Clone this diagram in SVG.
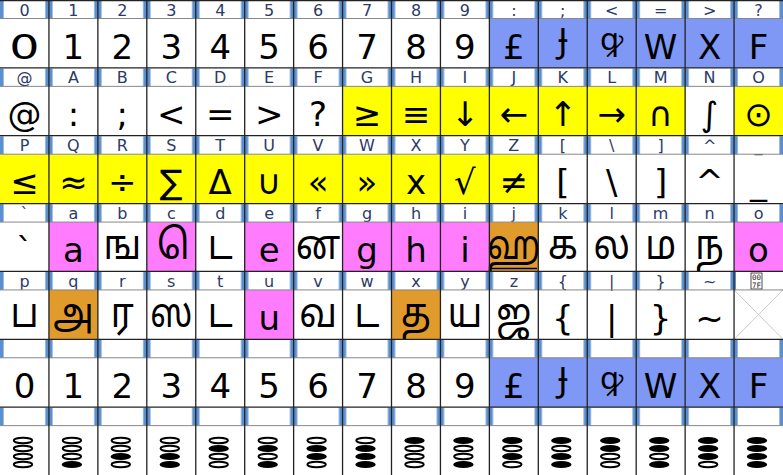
<svg xmlns="http://www.w3.org/2000/svg" xmlns:xlink="http://www.w3.org/1999/xlink" width="783" height="475" viewBox="0 0 783 475">
<style>
.h{font-family:"DejaVu Sans","Noto Sans",sans-serif;font-size:16px;fill:#2b3a67;text-anchor:middle}
.g{font-family:"DejaVu Sans","Noto Sans Tamil","Lohit Tamil","Noto Sans",sans-serif;font-size:34px;fill:#000;text-anchor:middle}
.t{font-family:"Noto Sans Tamil","Lohit Tamil","DejaVu Sans",sans-serif;font-size:41px;fill:#000;text-anchor:middle}
.n{font-family:"Noto Sans","DejaVu Sans",sans-serif;font-size:34px;fill:#000;text-anchor:middle}
.q{font-family:"Noto Sans","DejaVu Sans",sans-serif;font-size:31px;fill:#000;text-anchor:middle}
.bl{fill:#7f97f5}.ye{fill:#ffff00}.pk{fill:#ff7cff}.or{fill:#e19b2d}
.vl{stroke:#222;stroke-width:1.3}
.rl{stroke:#222;stroke-width:1.3}
.hl{stroke:#888;stroke-width:1}
.tf{font-family:"DejaVu Sans Mono",monospace;font-size:7.5px;fill:#222;text-anchor:middle}
</style>
<defs>
<pattern id="bars" patternUnits="userSpaceOnUse" x="0" y="0" width="48.9375" height="475">
<rect x="0" y="0" width="3.6" height="475" fill="#5b8fd0"/>
<rect x="45.34" y="0" width="3.6" height="475" fill="#5b8fd0"/>
</pattern>
<ellipse id="e0" cx="0" cy="0" rx="9.2" ry="2.7" fill="#fff" stroke="#000" stroke-width="2"/>
<ellipse id="e1" cx="0" cy="0" rx="10.2" ry="3.6" fill="#000"/>
</defs>
<rect width="783" height="475" fill="#fff"/>

<g id="header-strips">
<rect x="0" y="0.6" width="783" height="17.9" fill="url(#bars)"/>
<rect x="0" y="68.5" width="783" height="17.9" fill="url(#bars)"/>
<rect x="0" y="136.3" width="783" height="17.9" fill="url(#bars)"/>
<rect x="0" y="204.2" width="783" height="17.9" fill="url(#bars)"/>
<rect x="0" y="272" width="783" height="17.9" fill="url(#bars)"/>
<rect x="0" y="339.9" width="783" height="17.9" fill="url(#bars)"/>
<rect x="0" y="407.7" width="783" height="17.9" fill="url(#bars)"/>
</g>

<g id="row0">
<g id="c0-0"><text class="h" x="24.47" y="15.5">0</text><text class="g" transform="translate(24.47,58.5) scale(1.4,1)" x="0" y="0">0</text></g>
<g id="c0-1"><text class="h" x="73.41" y="15.5">1</text><text class="g" x="73.41" y="58.5">1</text></g>
<g id="c0-2"><text class="h" x="122.34" y="15.5">2</text><text class="g" x="122.34" y="58.5">2</text></g>
<g id="c0-3"><text class="h" x="171.28" y="15.5">3</text><text class="g" x="171.28" y="58.5">3</text></g>
<g id="c0-4"><text class="h" x="220.22" y="15.5">4</text><text class="g" x="220.22" y="58.5">4</text></g>
<g id="c0-5"><text class="h" x="269.16" y="15.5">5</text><text class="g" x="269.16" y="58.5">5</text></g>
<g id="c0-6"><text class="h" x="318.09" y="15.5">6</text><text class="g" x="318.09" y="58.5">6</text></g>
<g id="c0-7"><text class="h" x="367.03" y="15.5">7</text><text class="g" x="367.03" y="58.5">7</text></g>
<g id="c0-8"><text class="h" x="415.97" y="15.5">8</text><text class="g" x="415.97" y="58.5">8</text></g>
<g id="c0-9"><text class="h" x="464.91" y="15.5">9</text><text class="g" x="464.91" y="58.5">9</text></g>
<g id="c0-10"><rect class="bl" x="489.38" y="18.5" width="48.94" height="49.36"/><text class="h" x="513.84" y="15.5">:</text><text class="g" x="513.84" y="58.5">£</text></g>
<g id="c0-11"><rect class="bl" x="538.31" y="18.5" width="48.94" height="49.36"/><text class="h" x="562.78" y="15.5">;</text><text class="n" x="562.78" y="53">Ɉ</text></g>
<g id="c0-12"><rect class="bl" x="587.25" y="18.5" width="48.94" height="49.36"/><text class="h" x="611.72" y="15.5">&lt;</text><text class="q" x="611.72" y="50">ꝙ</text></g>
<g id="c0-13"><rect class="bl" x="636.19" y="18.5" width="48.94" height="49.36"/><text class="h" x="660.66" y="15.5">=</text><text class="g" x="660.66" y="58.5">W</text></g>
<g id="c0-14"><rect class="bl" x="685.13" y="18.5" width="48.94" height="49.36"/><text class="h" x="709.59" y="15.5">&gt;</text><text class="g" x="709.59" y="58.5">X</text></g>
<g id="c0-15"><rect class="bl" x="734.06" y="18.5" width="48.94" height="49.36"/><text class="h" x="758.53" y="15.5">?</text><text class="g" x="758.53" y="58.5">F</text></g>
</g>

<g id="row1">
<g id="c1-0"><text class="h" x="24.47" y="83.36">@</text><text class="g" x="24.47" y="126.36">@</text></g>
<g id="c1-1"><text class="h" x="73.41" y="83.36">A</text><text class="g" x="73.41" y="126.36">:</text></g>
<g id="c1-2"><text class="h" x="122.34" y="83.36">B</text><text class="g" x="122.34" y="126.36">;</text></g>
<g id="c1-3"><text class="h" x="171.28" y="83.36">C</text><text class="g" x="171.28" y="126.36">&lt;</text></g>
<g id="c1-4"><text class="h" x="220.22" y="83.36">D</text><text class="g" x="220.22" y="126.36">=</text></g>
<g id="c1-5"><text class="h" x="269.16" y="83.36">E</text><text class="g" x="269.16" y="126.36">&gt;</text></g>
<g id="c1-6"><text class="h" x="318.09" y="83.36">F</text><text class="g" x="318.09" y="126.36">?</text></g>
<g id="c1-7"><rect class="ye" x="342.56" y="86.36" width="48.94" height="49.36"/><text class="h" x="367.03" y="83.36">G</text><text class="g" x="367.03" y="126.36">≥</text></g>
<g id="c1-8"><rect class="ye" x="391.5" y="86.36" width="48.94" height="49.36"/><text class="h" x="415.97" y="83.36">H</text><text class="g" x="415.97" y="126.36">≡</text></g>
<g id="c1-9"><rect class="ye" x="440.44" y="86.36" width="48.94" height="49.36"/><text class="h" x="464.91" y="83.36">I</text><text class="g" x="464.91" y="126.36">↓</text></g>
<g id="c1-10"><rect class="ye" x="489.38" y="86.36" width="48.94" height="49.36"/><text class="h" x="513.84" y="83.36">J</text><text class="g" x="513.84" y="126.36">←</text></g>
<g id="c1-11"><rect class="ye" x="538.31" y="86.36" width="48.94" height="49.36"/><text class="h" x="562.78" y="83.36">K</text><text class="g" x="562.78" y="126.36">↑</text></g>
<g id="c1-12"><rect class="ye" x="587.25" y="86.36" width="48.94" height="49.36"/><text class="h" x="611.72" y="83.36">L</text><text class="g" x="611.72" y="126.36">→</text></g>
<g id="c1-13"><rect class="ye" x="636.19" y="86.36" width="48.94" height="49.36"/><text class="h" x="660.66" y="83.36">M</text><text class="g" x="660.66" y="126.36">∩</text></g>
<g id="c1-14"><text class="h" x="709.59" y="83.36">N</text><text class="g" x="709.59" y="126.36">∫</text></g>
<g id="c1-15"><rect class="ye" x="734.06" y="86.36" width="48.94" height="49.36"/><text class="h" x="758.53" y="83.36">O</text><text class="g" x="758.53" y="126.36">⊙</text></g>
</g>

<g id="row2">
<g id="c2-0"><rect class="ye" x="0" y="154.21" width="48.94" height="49.36"/><text class="h" x="24.47" y="151.21">P</text><text class="g" x="24.47" y="194.21">≤</text></g>
<g id="c2-1"><rect class="ye" x="48.94" y="154.21" width="48.94" height="49.36"/><text class="h" x="73.41" y="151.21">Q</text><text class="g" x="73.41" y="194.21">≈</text></g>
<g id="c2-2"><rect class="ye" x="97.88" y="154.21" width="48.94" height="49.36"/><text class="h" x="122.34" y="151.21">R</text><text class="g" x="122.34" y="194.21">÷</text></g>
<g id="c2-3"><rect class="ye" x="146.81" y="154.21" width="48.94" height="49.36"/><text class="h" x="171.28" y="151.21">S</text><text class="g" x="171.28" y="194.21">∑</text></g>
<g id="c2-4"><rect class="ye" x="195.75" y="154.21" width="48.94" height="49.36"/><text class="h" x="220.22" y="151.21">T</text><text class="g" x="220.22" y="194.21">Δ</text></g>
<g id="c2-5"><rect class="ye" x="244.69" y="154.21" width="48.94" height="49.36"/><text class="h" x="269.16" y="151.21">U</text><text class="g" x="269.16" y="194.21">∪</text></g>
<g id="c2-6"><rect class="ye" x="293.63" y="154.21" width="48.94" height="49.36"/><text class="h" x="318.09" y="151.21">V</text><text class="g" x="318.09" y="194.21">«</text></g>
<g id="c2-7"><rect class="ye" x="342.56" y="154.21" width="48.94" height="49.36"/><text class="h" x="367.03" y="151.21">W</text><text class="g" x="367.03" y="194.21">»</text></g>
<g id="c2-8"><rect class="ye" x="391.5" y="154.21" width="48.94" height="49.36"/><text class="h" x="415.97" y="151.21">X</text><text class="g" x="415.97" y="194.21">x</text></g>
<g id="c2-9"><rect class="ye" x="440.44" y="154.21" width="48.94" height="49.36"/><text class="h" x="464.91" y="151.21">Y</text><text class="g" x="464.91" y="194.21">√</text></g>
<g id="c2-10"><rect class="ye" x="489.38" y="154.21" width="48.94" height="49.36"/><text class="h" x="513.84" y="151.21">Z</text><text class="g" x="513.84" y="194.21">≠</text></g>
<g id="c2-11"><text class="h" x="562.78" y="151.21">[</text><text class="g" x="562.78" y="194.21">[</text></g>
<g id="c2-12"><text class="h" x="611.72" y="151.21">\</text><text class="g" x="611.72" y="194.21">\</text></g>
<g id="c2-13"><text class="h" x="660.66" y="151.21">]</text><text class="g" x="660.66" y="194.21">]</text></g>
<g id="c2-14"><text class="h" x="709.59" y="151.21">^</text><text class="g" x="709.59" y="194.21">^</text></g>
<g id="c2-15"><text class="h" x="758.53" y="151.21">_</text><text class="g" x="758.53" y="194.21">_</text></g>
</g>

<g id="row3">
<g id="c3-0"><text class="h" x="24.47" y="219.07">`</text><text class="g" x="24.47" y="262.07">`</text></g>
<g id="c3-1"><rect class="pk" x="48.94" y="222.07" width="48.94" height="49.36"/><text class="h" x="73.41" y="219.07">a</text><text class="g" x="73.41" y="262.07">a</text></g>
<g id="c3-2"><text class="h" x="122.34" y="219.07">b</text><text class="t" transform="translate(122.34,259) scale(0.88,1)">ங</text></g>
<g id="c3-3"><rect class="pk" x="146.81" y="222.07" width="48.94" height="49.36"/><text class="h" x="171.28" y="219.07">c</text><text class="t" transform="translate(178,259) scale(0.88,1)">&#160;ெ</text></g>
<g id="c3-4"><text class="h" x="220.22" y="219.07">d</text><text class="t" transform="translate(220.22,259) scale(0.88,1)">ட</text></g>
<g id="c3-5"><rect class="pk" x="244.69" y="222.07" width="48.94" height="49.36"/><text class="h" x="269.16" y="219.07">e</text><text class="g" x="269.16" y="262.07">e</text></g>
<g id="c3-6"><text class="h" x="318.09" y="219.07">f</text><text class="t" transform="translate(318.09,259) scale(0.88,1)">ன</text></g>
<g id="c3-7"><rect class="pk" x="342.56" y="222.07" width="48.94" height="49.36"/><text class="h" x="367.03" y="219.07">g</text><text class="g" x="367.03" y="262.07">g</text></g>
<g id="c3-8"><rect class="pk" x="391.5" y="222.07" width="48.94" height="49.36"/><text class="h" x="415.97" y="219.07">h</text><text class="g" x="415.97" y="262.07">h</text></g>
<g id="c3-9"><rect class="pk" x="440.44" y="222.07" width="48.94" height="49.36"/><text class="h" x="464.91" y="219.07">i</text><text class="g" x="464.91" y="262.07">i</text></g>
<g id="c3-10"><rect class="or" x="489.38" y="222.07" width="48.94" height="49.36"/><text class="h" x="513.84" y="219.07">j</text><text class="t" transform="translate(513.84,259) scale(0.8,1)">ஹ</text><line x1="491" y1="268.6" x2="537" y2="268.6" stroke="#000" stroke-width="1.5"/></g>
<g id="c3-11"><text class="h" x="562.78" y="219.07">k</text><text class="t" transform="translate(562.78,259) scale(0.88,1)">க</text></g>
<g id="c3-12"><text class="h" x="611.72" y="219.07">l</text><text class="t" transform="translate(611.72,259) scale(0.88,1)">ல</text></g>
<g id="c3-13"><text class="h" x="660.66" y="219.07">m</text><text class="t" transform="translate(660.66,259) scale(0.88,1)">ம</text></g>
<g id="c3-14"><text class="h" x="709.59" y="219.07">n</text><text class="t" transform="translate(709.59,259) scale(0.88,1)">ந</text></g>
<g id="c3-15"><rect class="pk" x="734.06" y="222.07" width="48.94" height="49.36"/><text class="h" x="758.53" y="219.07">o</text><text class="g" x="758.53" y="262.07">o</text></g>
</g>

<g id="row4">
<g id="c4-0"><text class="h" x="24.47" y="286.93">p</text><text class="t" transform="translate(24.47,327) scale(0.88,1)">ப</text></g>
<g id="c4-1"><rect class="or" x="48.94" y="289.93" width="48.94" height="49.36"/><text class="h" x="73.41" y="286.93">q</text><text class="t" transform="translate(73.41,327) scale(0.88,1)">அ</text></g>
<g id="c4-2"><text class="h" x="122.34" y="286.93">r</text><text class="t" transform="translate(122.34,327) scale(0.88,1)">ர</text></g>
<g id="c4-3"><text class="h" x="171.28" y="286.93">s</text><text class="t" transform="translate(171.28,327) scale(0.8,1)">ஸ</text></g>
<g id="c4-4"><text class="h" x="220.22" y="286.93">t</text><text class="t" transform="translate(220.22,327) scale(0.88,1)">ட</text></g>
<g id="c4-5"><rect class="pk" x="244.69" y="289.93" width="48.94" height="49.36"/><text class="h" x="269.16" y="286.93">u</text><text class="g" x="269.16" y="329.93">u</text></g>
<g id="c4-6"><text class="h" x="318.09" y="286.93">v</text><text class="t" transform="translate(318.09,327) scale(0.88,1)">வ</text></g>
<g id="c4-7"><text class="h" x="367.03" y="286.93">w</text><text class="t" transform="translate(367.03,327) scale(0.88,1)">ட</text></g>
<g id="c4-8"><rect class="or" x="391.5" y="289.93" width="48.94" height="49.36"/><text class="h" x="415.97" y="286.93">x</text><text class="t" transform="translate(415.97,327) scale(0.88,1)">த</text></g>
<g id="c4-9"><text class="h" x="464.91" y="286.93">y</text><text class="t" transform="translate(464.91,327) scale(0.88,1)">ய</text></g>
<g id="c4-10"><text class="h" x="513.84" y="286.93">z</text><text class="t" transform="translate(513.84,327) scale(0.85,1)">ஜ</text></g>
<g id="c4-11"><text class="h" x="562.78" y="286.93">{</text><text class="g" x="562.78" y="329.93">{</text></g>
<g id="c4-12"><text class="h" x="611.72" y="286.93">|</text><text class="g" x="611.72" y="329.93">|</text></g>
<g id="c4-13"><text class="h" x="660.66" y="286.93">}</text><text class="g" x="660.66" y="329.93">}</text></g>
<g id="c4-14"><text class="h" x="709.59" y="286.93">~</text><text class="g" x="709.59" y="329.93">~</text></g>
<g id="c4-15"><rect x="736" y="272" width="47" height="17.9" fill="#fff"/><rect x="751" y="273" width="11" height="16" fill="#fff" stroke="#222" stroke-width="0.8"/><text class="tf" x="756.5" y="280.2">00</text><text class="tf" x="756.5" y="287.8">7F</text><line x1="734.06" y1="289.93" x2="783" y2="339.29" stroke="#ccc" stroke-width="1"/><line x1="783" y1="289.93" x2="734.06" y2="339.29" stroke="#ccc" stroke-width="1"/></g>
</g>

<g id="row5">
<g id="c5-0"><text class="g" x="24.47" y="397.79">0</text></g>
<g id="c5-1"><text class="g" x="73.41" y="397.79">1</text></g>
<g id="c5-2"><text class="g" x="122.34" y="397.79">2</text></g>
<g id="c5-3"><text class="g" x="171.28" y="397.79">3</text></g>
<g id="c5-4"><text class="g" x="220.22" y="397.79">4</text></g>
<g id="c5-5"><text class="g" x="269.16" y="397.79">5</text></g>
<g id="c5-6"><text class="g" x="318.09" y="397.79">6</text></g>
<g id="c5-7"><text class="g" x="367.03" y="397.79">7</text></g>
<g id="c5-8"><text class="g" x="415.97" y="397.79">8</text></g>
<g id="c5-9"><text class="g" x="464.91" y="397.79">9</text></g>
<g id="c5-10"><rect class="bl" x="489.38" y="357.79" width="48.94" height="49.36"/><text class="g" x="513.84" y="397.79">£</text></g>
<g id="c5-11"><rect class="bl" x="538.31" y="357.79" width="48.94" height="49.36"/><text class="n" x="562.78" y="392.3">Ɉ</text></g>
<g id="c5-12"><rect class="bl" x="587.25" y="357.79" width="48.94" height="49.36"/><text class="q" x="611.72" y="389.3">ꝙ</text></g>
<g id="c5-13"><rect class="bl" x="636.19" y="357.79" width="48.94" height="49.36"/><text class="g" x="660.66" y="397.79">W</text></g>
<g id="c5-14"><rect class="bl" x="685.13" y="357.79" width="48.94" height="49.36"/><text class="g" x="709.59" y="397.79">X</text></g>
<g id="c5-15"><rect class="bl" x="734.06" y="357.79" width="48.94" height="49.36"/><text class="g" x="758.53" y="397.79">F</text></g>
</g>

<g id="row6">
<g id="c6-0" transform="translate(23,0)"><use href="#e0" y="440.5"/><use href="#e0" y="448.5"/><use href="#e0" y="456.5"/><use href="#e0" y="464.5"/></g>
<g id="c6-1" transform="translate(71.9,0)"><use href="#e0" y="440.5"/><use href="#e0" y="448.5"/><use href="#e0" y="456.5"/><use href="#e1" y="464.5"/></g>
<g id="c6-2" transform="translate(120.8,0)"><use href="#e0" y="440.5"/><use href="#e0" y="448.5"/><use href="#e1" y="456.5"/><use href="#e0" y="464.5"/></g>
<g id="c6-3" transform="translate(169.8,0)"><use href="#e0" y="440.5"/><use href="#e0" y="448.5"/><use href="#e1" y="456.5"/><use href="#e1" y="464.5"/></g>
<g id="c6-4" transform="translate(218.7,0)"><use href="#e0" y="440.5"/><use href="#e1" y="448.5"/><use href="#e0" y="456.5"/><use href="#e0" y="464.5"/></g>
<g id="c6-5" transform="translate(267.7,0)"><use href="#e0" y="440.5"/><use href="#e1" y="448.5"/><use href="#e0" y="456.5"/><use href="#e1" y="464.5"/></g>
<g id="c6-6" transform="translate(316.6,0)"><use href="#e0" y="440.5"/><use href="#e1" y="448.5"/><use href="#e1" y="456.5"/><use href="#e0" y="464.5"/></g>
<g id="c6-7" transform="translate(365.5,0)"><use href="#e0" y="440.5"/><use href="#e1" y="448.5"/><use href="#e1" y="456.5"/><use href="#e1" y="464.5"/></g>
<g id="c6-8" transform="translate(414.5,0)"><use href="#e1" y="440.5"/><use href="#e0" y="448.5"/><use href="#e0" y="456.5"/><use href="#e0" y="464.5"/></g>
<g id="c6-9" transform="translate(463.4,0)"><use href="#e1" y="440.5"/><use href="#e0" y="448.5"/><use href="#e0" y="456.5"/><use href="#e1" y="464.5"/></g>
<g id="c6-10" transform="translate(512.3,0)"><use href="#e1" y="440.5"/><use href="#e0" y="448.5"/><use href="#e1" y="456.5"/><use href="#e0" y="464.5"/></g>
<g id="c6-11" transform="translate(561.3,0)"><use href="#e1" y="440.5"/><use href="#e0" y="448.5"/><use href="#e1" y="456.5"/><use href="#e1" y="464.5"/></g>
<g id="c6-12" transform="translate(610.2,0)"><use href="#e1" y="440.5"/><use href="#e1" y="448.5"/><use href="#e0" y="456.5"/><use href="#e0" y="464.5"/></g>
<g id="c6-13" transform="translate(659.2,0)"><use href="#e1" y="440.5"/><use href="#e1" y="448.5"/><use href="#e0" y="456.5"/><use href="#e1" y="464.5"/></g>
<g id="c6-14" transform="translate(708.1,0)"><use href="#e1" y="440.5"/><use href="#e1" y="448.5"/><use href="#e1" y="456.5"/><use href="#e0" y="464.5"/></g>
<g id="c6-15" transform="translate(757,0)"><use href="#e1" y="440.5"/><use href="#e1" y="448.5"/><use href="#e1" y="456.5"/><use href="#e1" y="464.5"/></g>
</g>

<g id="grid">
<line class="rl" x1="0" y1="0.6" x2="783" y2="0.6"/>
<line class="rl" x1="0" y1="67.86" x2="783" y2="67.86"/>
<line class="rl" x1="0" y1="135.71" x2="783" y2="135.71"/>
<line class="rl" x1="0" y1="203.57" x2="783" y2="203.57"/>
<line class="rl" x1="0" y1="271.43" x2="783" y2="271.43"/>
<line class="rl" x1="0" y1="339.29" x2="783" y2="339.29"/>
<line class="rl" x1="0" y1="407.14" x2="783" y2="407.14"/>
<line class="hl" x1="0" y1="18.5" x2="783" y2="18.5"/>
<line class="hl" x1="0" y1="86.36" x2="783" y2="86.36"/>
<line class="hl" x1="0" y1="154.21" x2="783" y2="154.21"/>
<line class="hl" x1="0" y1="222.07" x2="783" y2="222.07"/>
<line class="hl" x1="0" y1="289.93" x2="783" y2="289.93"/>
<line class="hl" x1="0" y1="357.79" x2="783" y2="357.79"/>
<line class="hl" x1="0" y1="425.64" x2="783" y2="425.64"/>
<line class="vl" x1="48.94" y1="0" x2="48.94" y2="475"/>
<line class="vl" x1="97.88" y1="0" x2="97.88" y2="475"/>
<line class="vl" x1="146.81" y1="0" x2="146.81" y2="475"/>
<line class="vl" x1="195.75" y1="0" x2="195.75" y2="475"/>
<line class="vl" x1="244.69" y1="0" x2="244.69" y2="475"/>
<line class="vl" x1="293.63" y1="0" x2="293.63" y2="475"/>
<line class="vl" x1="342.56" y1="0" x2="342.56" y2="475"/>
<line class="vl" x1="391.5" y1="0" x2="391.5" y2="475"/>
<line class="vl" x1="440.44" y1="0" x2="440.44" y2="475"/>
<line class="vl" x1="489.38" y1="0" x2="489.38" y2="475"/>
<line class="vl" x1="538.31" y1="0" x2="538.31" y2="475"/>
<line class="vl" x1="587.25" y1="0" x2="587.25" y2="475"/>
<line class="vl" x1="636.19" y1="0" x2="636.19" y2="475"/>
<line class="vl" x1="685.13" y1="0" x2="685.13" y2="475"/>
<line class="vl" x1="734.06" y1="0" x2="734.06" y2="475"/>
</g>
</svg>
